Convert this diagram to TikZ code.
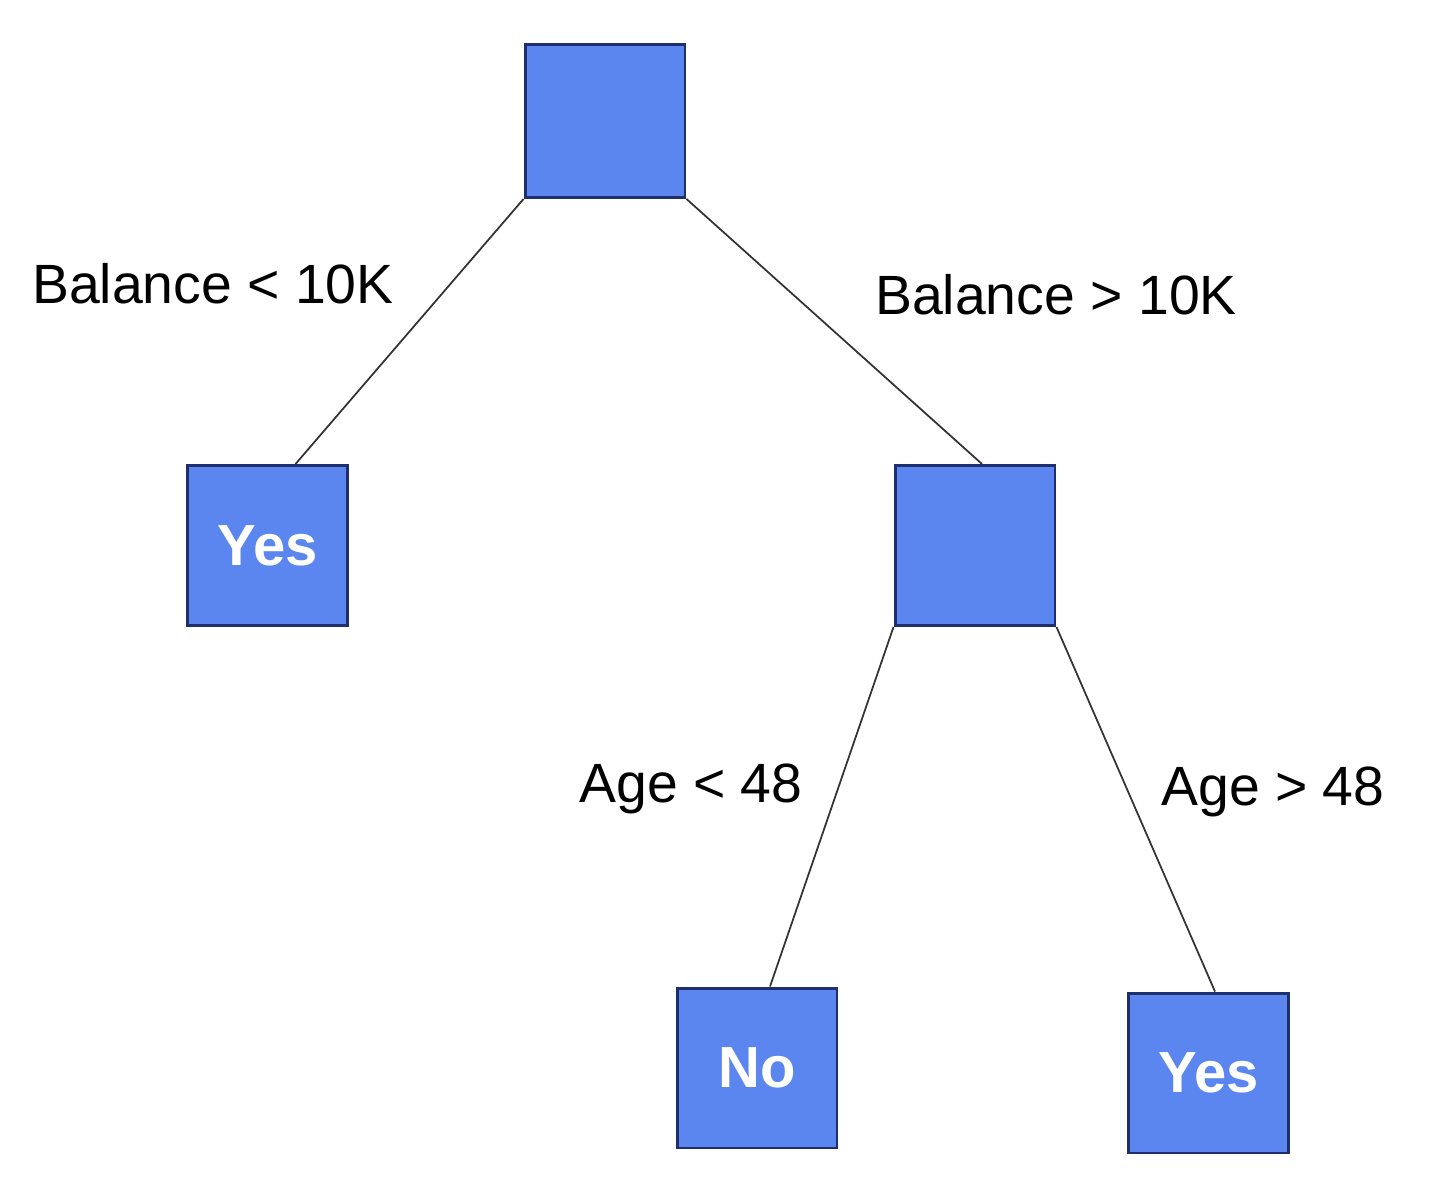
\documentclass[tikz,border=0pt]{standalone}
\usepackage{fontspec}
\setmainfont{Liberation Sans}
\usepackage{tikz}
\usetikzlibrary{positioning}

\definecolor{boxblue}{HTML}{5B86F0}
\definecolor{boxline}{HTML}{1F2F6B}

\begin{document}
\begin{tikzpicture}[x=0.02cm,y=-0.02cm]

\tikzset{split/.style={draw=boxline, line width=1.7pt, fill=boxblue,
                       minimum width=3.2cm, minimum height=3.2cm, inner sep=0pt,
                       text=white, font=\fontsize{33}{38}\selectfont\bfseries}}
\tikzset{cond/.style={anchor=base, inner sep=0pt,
                      font=\fontsize{31.5}{36}\selectfont}}
\tikzset{branch/.style={draw=black!80, line width=1pt}}

\useasboundingbox (0,0) rectangle (1433,1200);

% the tree
\node[split, minimum height=3.06cm] (root) at (605,121) {};
\node[split] (yesl) at (267.5,545.5) {Yes};
\node[split] (age)  at (975,545.5) {};
\node[split] (no)   at (757,1068) {No};
\node[split] (yesr) at (1208.5,1073) {Yes};

\draw[branch] (root.south west) -- ([xshift=0.56cm]yesl.north);
\draw[branch] (root.south east) -- ([xshift=0.14cm]age.north);
\draw[branch] (age.south west) -- ([xshift=0.26cm]no.north);
\draw[branch] (age.south east) -- ([xshift=0.13cm]yesr.north);

% the tests
\node[cond] (ballow) at (213,303) {Balance < 10K};
\node[cond] (balhigh) at (1056,314) {Balance > 10K};
\node[cond] (agelow) at (691,802) {Age < 48};
\node[cond] (agehigh) at (1273,805) {Age > 48};

\end{tikzpicture}
\end{document}
